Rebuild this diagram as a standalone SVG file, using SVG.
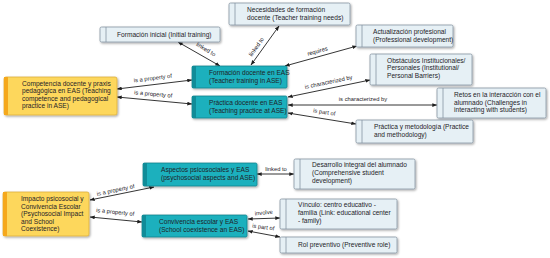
<svg xmlns="http://www.w3.org/2000/svg" width="550" height="258" viewBox="0 0 550 258">
<style>
text{font-family:"Liberation Sans",Arial,sans-serif;fill:#1e2328}
.t{font-size:6.6px}
.l{font-size:5.8px;text-anchor:middle}
.lb rect.b{fill:#e6f0f5;stroke:#8796a2;stroke-width:0.8}
.lb line{stroke:#8796a2;stroke-width:0.8}
.tb rect.b{fill:#1fb0bd;stroke:#12838e;stroke-width:0.8}
.tb rect.s{fill:#108c98}
.yb rect.b{fill:#fdd75c;stroke:#dcae3c;stroke-width:0.8}
.yb rect.s{fill:#f5a81c}
#conn path{fill:none;stroke:#1e1e1e;stroke-width:0.9;marker-start:url(#ah);marker-end:url(#ah)}
</style>
<defs>
<marker id="ah" viewBox="0 0 8 6" refX="7.5" refY="3" markerWidth="5" markerHeight="4" markerUnits="userSpaceOnUse" orient="auto-start-reverse"><path d="M0,0 L8,3 L0,6 Z" fill="#1e1e1e"/></marker>
<filter id="sh" x="-10%" y="-20%" width="130%" height="150%"><feDropShadow dx="1" dy="1.2" stdDeviation="0.9" flood-color="#000" flood-opacity="0.35"/></filter>
</defs>
<rect width="550" height="258" fill="#ffffff"/>

<g id="conn">
<path d="M117,89 L192,80"/>
<path d="M117,97 L192,104"/>
<path d="M178,42 L220,66"/>
<path d="M279,26 L251,65"/>
<path d="M285,66 L357,46"/>
<path d="M288,97 L370,80"/>
<path d="M288,105 L437,105"/>
<path d="M288,113 L356,124"/>
<path d="M90,200 L154,187"/>
<path d="M90,217 L142,222"/>
<path d="M257,174 L294,174"/>
<path d="M248,219 L280,218"/>
<path d="M248,231 L280,237"/>
<text class="l" transform="translate(153,80) rotate(-7)">is a property of</text>
<text class="l" transform="translate(153,96) rotate(5)">is a property of</text>
<text class="l" transform="translate(205,51) rotate(31)">linked to</text>
<text class="l" transform="translate(258,48) rotate(-55)">linked to</text>
<text class="l" transform="translate(318,53) rotate(-15)">requires</text>
<text class="l" transform="translate(329,84) rotate(-12)">is characterized by</text>
<text class="l" transform="translate(363,101)">is characterized by</text>
<text class="l" transform="translate(324,114) rotate(9)">is part of</text>
<text class="l" transform="translate(116,192) rotate(-12)">is a property of</text>
<text class="l" transform="translate(115,214) rotate(6)">is a property of</text>
<text class="l" transform="translate(276,171)">linked to</text>
<text class="l" transform="translate(264,214.5) rotate(-6)">involve</text>
<text class="l" transform="translate(263,229) rotate(8)">is part of</text>
</g>

<g id="competencia" class="yb">
<rect class="b" x="4" y="77" width="113" height="38" rx="2" filter="url(#sh)"/>
<rect class="s" x="4" y="77" width="4" height="38"/>
<text class="t" x="22" y="85.5">Competencia docente y praxis</text>
<text class="t" x="22" y="93">pedagógica en EAS (Teaching</text>
<text class="t" x="22" y="100.5">competence and pedagogical</text>
<text class="t" x="22" y="108">practice in ASE)</text>
</g>

<g id="formacion-inicial" class="lb">
<rect class="b" x="100" y="27" width="120" height="15" rx="1.5" filter="url(#sh)"/>
<line x1="106" y1="27" x2="106" y2="42"/>
<text class="t" x="117" y="37">Formación inicial (Initial training)</text>
</g>

<g id="necesidades" class="lb">
<rect class="b" x="229" y="3" width="121" height="22" rx="1.5" filter="url(#sh)"/>
<line x1="235" y1="3" x2="235" y2="25"/>
<text class="t" x="247" y="12">Necesidades de formación</text>
<text class="t" x="247" y="20">docente (Teacher training needs)</text>
</g>

<g id="formacion-docente" class="tb">
<rect class="b" x="192" y="66" width="95" height="22" rx="1.5" filter="url(#sh)"/>
<rect class="s" x="192" y="66" width="4" height="22"/>
<text class="t" x="209" y="75">Formación docente en EAS</text>
<text class="t" x="209" y="83">(Teacher training in ASE)</text>
</g>

<g id="practica-docente" class="tb">
<rect class="b" x="192" y="96" width="95" height="22" rx="1.5" filter="url(#sh)"/>
<rect class="s" x="192" y="96" width="4" height="22"/>
<text class="t" x="209" y="105">Práctica docente en EAS</text>
<text class="t" x="209" y="113">(Teaching practice at ASE)</text>
</g>

<g id="actualizacion" class="lb">
<rect class="b" x="356" y="25" width="97" height="22" rx="1.5" filter="url(#sh)"/>
<line x1="362" y1="25" x2="362" y2="47"/>
<text class="t" x="373" y="34">Actualización profesional</text>
<text class="t" x="373" y="42">(Professional development)</text>
</g>

<g id="obstaculos" class="lb">
<rect class="b" x="370" y="54" width="102" height="31" rx="1.5" filter="url(#sh)"/>
<line x1="376" y1="54" x2="376" y2="85"/>
<text class="t" x="387" y="62.5">Obstáculos Institucionales/</text>
<text class="t" x="387" y="70">Personales (Institutional/</text>
<text class="t" x="387" y="77.5">Personal Barriers)</text>
</g>

<g id="retos" class="lb">
<rect class="b" x="437" y="88" width="109" height="30" rx="1.5" filter="url(#sh)"/>
<line x1="443" y1="88" x2="443" y2="118"/>
<text class="t" x="454" y="97">Retos en la interacción con el</text>
<text class="t" x="454" y="104.5">alumnado (Challenges in</text>
<text class="t" x="454" y="112">interacting with students)</text>
</g>

<g id="practica-metodologia" class="lb">
<rect class="b" x="356" y="120" width="117" height="23" rx="1.5" filter="url(#sh)"/>
<line x1="362" y1="120" x2="362" y2="143"/>
<text class="t" x="374" y="129">Práctica y metodología (Practice</text>
<text class="t" x="374" y="137">and methodology)</text>
</g>

<g id="impacto" class="yb">
<rect class="b" x="3" y="192" width="86" height="44" rx="2" filter="url(#sh)"/>
<rect class="s" x="3" y="192" width="4" height="44"/>
<text class="t" x="21" y="201">Impacto psicosocial y</text>
<text class="t" x="21" y="208.5">Convivencia Escolar</text>
<text class="t" x="21" y="216">(Psychosocial Impact</text>
<text class="t" x="21" y="223.5">and School</text>
<text class="t" x="21" y="231">Coexistence)</text>
</g>

<g id="aspectos" class="tb">
<rect class="b" x="143" y="163" width="114" height="23" rx="1.5" filter="url(#sh)"/>
<rect class="s" x="143" y="163" width="4" height="23"/>
<text class="t" x="161" y="172">Aspectos psicosociales y EAS</text>
<text class="t" x="161" y="180">(psychosocial aspects and ASE)</text>
</g>

<g id="convivencia" class="tb">
<rect class="b" x="142" y="215" width="105" height="22" rx="1.5" filter="url(#sh)"/>
<rect class="s" x="142" y="215" width="4" height="22"/>
<text class="t" x="159" y="224">Convivencia escolar y EAS</text>
<text class="t" x="159" y="231.5">(School coexistence an EAS)</text>
</g>

<g id="desarrollo" class="lb">
<rect class="b" x="294" y="159" width="121" height="30" rx="1.5" filter="url(#sh)"/>
<line x1="300" y1="159" x2="300" y2="189"/>
<text class="t" x="312" y="167">Desarrollo integral del alumnado</text>
<text class="t" x="312" y="175">(Comprehensive student</text>
<text class="t" x="312" y="183">development)</text>
</g>

<g id="vinculo" class="lb">
<rect class="b" x="280" y="199" width="117" height="30" rx="1.5" filter="url(#sh)"/>
<line x1="286" y1="199" x2="286" y2="229"/>
<text class="t" x="298" y="206.5">Vínculo: centro educativo -</text>
<text class="t" x="298" y="214.5">familia (Link: educational center</text>
<text class="t" x="298" y="222.5">- family)</text>
</g>

<g id="rol" class="lb">
<rect class="b" x="280" y="237" width="117" height="16" rx="1.5" filter="url(#sh)"/>
<line x1="286" y1="237" x2="286" y2="253"/>
<text class="t" x="298" y="247">Rol preventivo (Preventive role)</text>
</g>
</svg>
